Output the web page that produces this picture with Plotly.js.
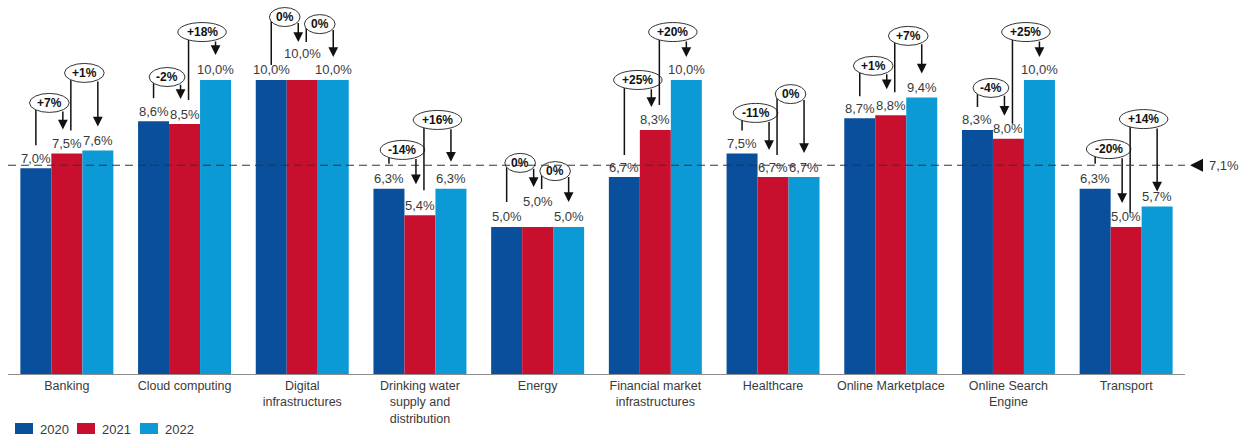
<!DOCTYPE html>
<html><head><meta charset="utf-8">
<script src="https://cdn.plot.ly/plotly-3.0.1.min.js"></script>
<style>html,body{margin:0;padding:0;background:#fff}#chart{width:1247px;height:439px}</style>
</head><body><div id="chart"></div>
<script>
// ---------- data ----------
const categories = ['Banking','Cloud computing','Digital<br>infrastructures','Drinking water<br>supply and<br>distribution','Energy','Financial market<br>infrastructures','Healthcare','Online Marketplace','Online Search<br>Engine','Transport'];
const years = ['2020','2021','2022'];
const values2020 = [7.0, 8.6, 10.0, 6.3, 5.0, 6.7, 7.5, 8.7, 8.3, 6.3];
const values2021 = [7.5, 8.5, 10.0, 5.4, 5.0, 8.3, 6.7, 8.8, 8.0, 5.0];
const values2022 = [7.6, 10.0, 10.0, 6.3, 5.0, 10.0, 6.7, 9.4, 10.0, 5.7];
const change2020to2021 = ['+7%','-2%','0%','-14%','0%','+25%','-11%','+1%','-4%','-20%'];
const change2021to2022 = ['+1%','+18%','0%','+16%','0%','+20%','0%','+7%','+25%','+14%'];
const averageValue = 7.1;
const averageLabel = '7,1%';

// ---------- layout / style ----------
const colors = ['#0a4f9c','#c8102e','#0b9ad6'];
const FONT = '"Liberation Sans", Arial, sans-serif';
const W = 1247, H = 439, M = {l: 8, r: 62, t: 0, b: 65};
const yMax = 12.72;
const bargap = 0.21;
const plotW = W - M.l - M.r, plotH = H - M.t - M.b;
const PXX = plotW / 10, PXY = plotH / yMax;
const dx = px => px / PXX, dy = px => px / PXY;
const bw = (1 - bargap) / 3;

// connector placement (bubble heights on value scale, pixel gaps)
const bubble1Y = [9.22, 10.10, 12.14, 7.62, 7.18, 10.00, 8.88, 10.48, 9.73, 7.65];
const bubble2Y = [10.24, 11.63, 11.90, 8.64, 6.90, 11.63, 9.52, 11.50, 11.63, 8.67];
const labelLift = [
  [10,10,10,10,10,10,10,10,10,10],
  [10,10,26,10,25,10,10,10,10,10],
  [10,10,10,10,10,10,10,10,10,10]
];
const line1Gap = [13,13,5,15,15,12,13,12,13,15];
const tip1Gap  = [14,15,12,21,15,13,17,16,13,14];
const line2Gap = [13,14,12,15,13,15,12,13,5,4];
const tip2Gap  = [14,15,13,17,15,13,14,14,13,5];
// approximate bold 12px glyph widths for bubble sizing
const glyphW = {'+': 7.0, '-': 4.0, '%': 10.7};

const series = [values2020, values2021, values2022];
const idx = categories.map((c, i) => i);

const traces = series.map((vals, k) => ({
  type: 'bar', x: idx, y: vals, name: years[k],
  marker: {color: colors[k], line: {width: 0}},
  hoverinfo: 'skip', showlegend: false
}));

const shapes = [];
const annotations = [];
const fmt = v => v.toFixed(1).replace('.', ',') + '%';
const barX = (i, k) => i + (k - 1) * bw;
const labelY = (i, k) => series[k][i] + dy(labelLift[k][i]);
const textW = t => t.split('').reduce((s, c) => s + (glyphW[c] || 6.7), 0);

// value labels
series.forEach((vals, k) => vals.forEach((v, i) => {
  annotations.push({x: barX(i, k), y: labelY(i, k), xref: 'x', yref: 'y', text: fmt(v),
    showarrow: false, xanchor: 'center', yanchor: 'middle',
    font: {family: FONT, size: 13, color: '#3a3a3a'}});
}));

function connector(i, from, to, lShift, rShift, by, text, lGap, tGap) {
  const xL = barX(i, from) + dx(lShift);
  const xR = barX(i, to) + dx(rShift);
  const bottom = labelY(i, from) + dy(lGap);
  const tip = labelY(i, to) + dy(tGap);
  const xc = (xL + xR) / 2;
  const w = Math.max(textW(text) * 1.3 + 8, 27), h = 19;
  shapes.push({type: 'line', xref: 'x', yref: 'y', x0: xL, x1: xL, y0: bottom, y1: by,
    line: {color: '#111', width: 1.5}, layer: 'above'});
  shapes.push({type: 'circle', xref: 'x', yref: 'y', x0: xc - dx(w / 2), x1: xc + dx(w / 2),
    y0: by - dy(h / 2), y1: by + dy(h / 2), fillcolor: '#fff',
    line: {color: '#333', width: 1}, layer: 'above'});
  const a = w / 2, b = h / 2, off = (xR - xc) * PXX;
  const drop = Math.abs(off) < a ? b * Math.sqrt(1 - (off / a) * (off / a)) : 0;
  annotations.push({x: xR, y: tip, xref: 'x', yref: 'y', ax: xR, ay: by - dy(drop),
    axref: 'x', ayref: 'y', text: '', showarrow: true, arrowhead: 2, arrowsize: 1.3,
    arrowwidth: 1.5, arrowcolor: '#111', standoff: 0, startstandoff: 0});
  annotations.push({x: xc, y: by, xref: 'x', yref: 'y', text: '<b>' + text + '</b>',
    showarrow: false, xanchor: 'center', yanchor: 'middle',
    font: {family: FONT, size: 12, color: '#111'}});
}
idx.forEach(i => {
  connector(i, 0, 1, 0, -4, bubble1Y[i], change2020to2021[i], line1Gap[i], tip1Gap[i]);
  connector(i, 1, 2, 4, 0, bubble2Y[i], change2021to2022[i], line2Gap[i], tip2Gap[i]);
});

// average line + marker
shapes.push({type: 'line', xref: 'paper', yref: 'y', x0: 0, x1: 1, y0: averageValue, y1: averageValue,
  line: {color: '#333', width: 1, dash: '8px,5px'}, layer: 'above'});
shapes.push({type: 'path', xref: 'paper', yref: 'y', xsizemode: 'pixel', ysizemode: 'pixel',
  xanchor: 1, yanchor: averageValue, path: 'M5,0L18,6.5L18,-6.5Z',
  fillcolor: '#111', line: {width: 0}});
annotations.push({xref: 'paper', yref: 'y', x: 1, y: averageValue, xshift: 22, text: averageLabel,
  showarrow: false, xanchor: 'left', yanchor: 'middle', font: {family: FONT, size: 13, color: '#3a3a3a'}});

// legend
const legendX = [7, 69, 132];
years.forEach((yr, k) => {
  shapes.push({type: 'rect', xref: 'paper', yref: 'paper', xsizemode: 'pixel', ysizemode: 'pixel',
    xanchor: 0, yanchor: 0, x0: legendX[k], x1: legendX[k] + 18, y0: -49, y1: -60,
    fillcolor: colors[k], line: {width: 0}});
  annotations.push({xref: 'paper', yref: 'paper', x: 0, y: 0, xshift: legendX[k] + 23, yshift: -55,
    text: yr, showarrow: false, xanchor: 'left', yanchor: 'middle',
    font: {family: FONT, size: 13, color: '#3a3a3a'}});
});

const layout = {
  width: W, height: H, margin: M, paper_bgcolor: '#fff', plot_bgcolor: '#fff',
  barmode: 'group', bargap: bargap, bargroupgap: 0, showlegend: false,
  font: {family: FONT, size: 13, color: '#3a3a3a'},
  xaxis: {range: [-0.5, 9.5], tickvals: idx, ticktext: categories, ticks: '',
    showgrid: false, zeroline: false, showline: true, linecolor: '#8c8c8c', linewidth: 1,
    tickfont: {family: FONT, size: 12.5, color: '#3a3a3a'}, fixedrange: true},
  yaxis: {range: [0, yMax], visible: false, showgrid: false, zeroline: false, fixedrange: true},
  shapes: shapes, annotations: annotations
};
Plotly.newPlot('chart', traces, layout, {displayModeBar: false, staticPlot: true});
</script></body></html>
